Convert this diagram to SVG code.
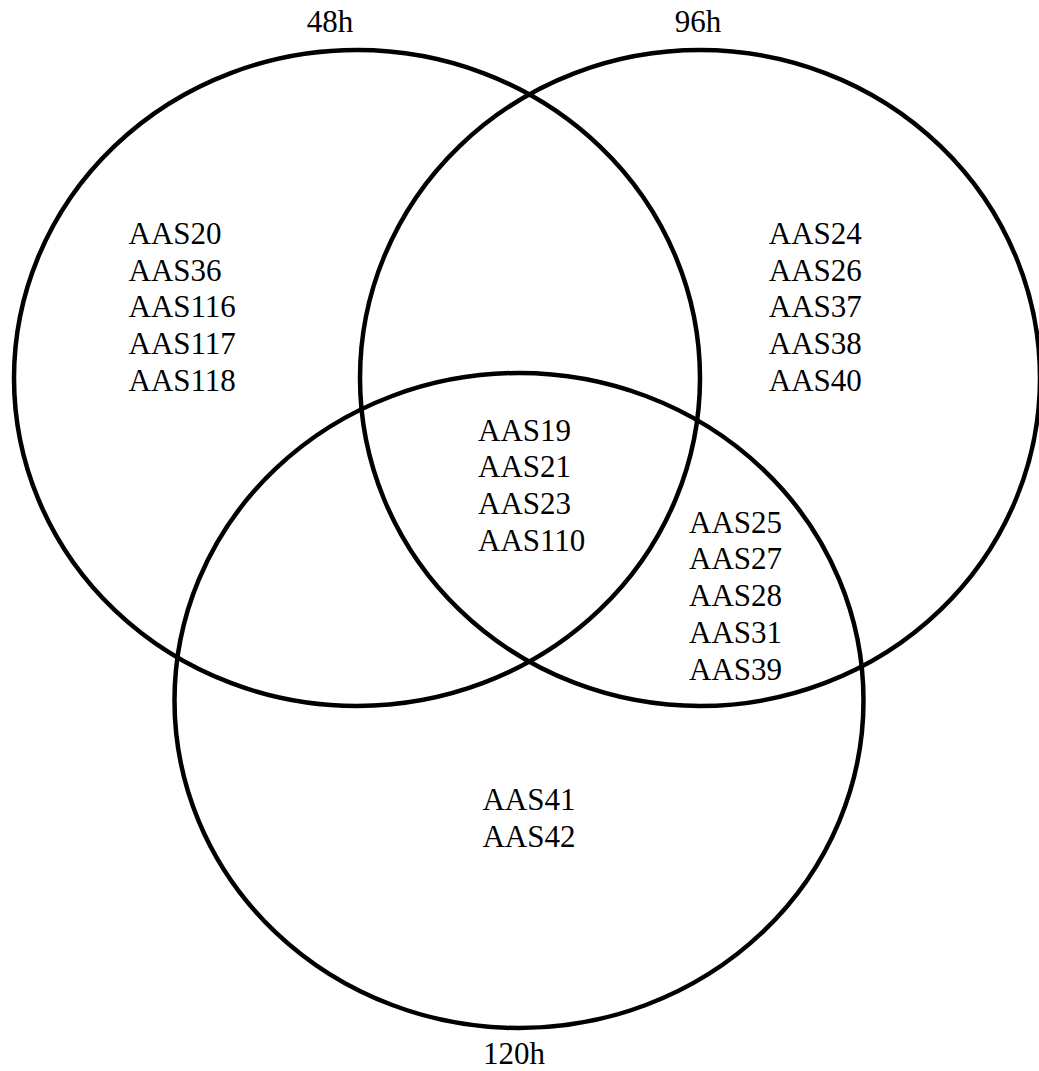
<svg xmlns="http://www.w3.org/2000/svg" width="1039" height="1071" viewBox="0 0 1039 1071">
<style>
.c{fill:none;stroke:#000;stroke-width:4.5}
.t{font-family:"Liberation Serif","Times New Roman",serif;font-size:31px;fill:#000}
</style>
<rect width="1039" height="1071" fill="#fff"/>
<g id="set-48h">
<ellipse class="c" cx="357" cy="378" rx="343" ry="328"/>
<text class="t" x="330" y="32" text-anchor="middle">48h</text>
</g>
<g id="set-96h">
<ellipse class="c" cx="700" cy="378" rx="340" ry="328"/>
<text class="t" x="698" y="32" text-anchor="middle">96h</text>
</g>
<g id="set-120h">
<ellipse class="c" cx="519" cy="700.5" rx="344.5" ry="327.5"/>
<text class="t" x="514" y="1064" text-anchor="middle">120h</text>
</g>
<g id="only-48h" class="t">
<text x="128.5" y="244">AAS20</text>
<text x="128.5" y="280.7">AAS36</text>
<text x="128.5" y="317.3">AAS116</text>
<text x="128.5" y="354">AAS117</text>
<text x="128.5" y="390.7">AAS118</text>
</g>
<g id="only-96h" class="t">
<text x="768.8" y="244">AAS24</text>
<text x="768.8" y="280.7">AAS26</text>
<text x="768.8" y="317.3">AAS37</text>
<text x="768.8" y="354">AAS38</text>
<text x="768.8" y="390.7">AAS40</text>
</g>
<g id="all-three" class="t">
<text x="478" y="440.7">AAS19</text>
<text x="478" y="477.3">AAS21</text>
<text x="478" y="514">AAS23</text>
<text x="478" y="550.7">AAS110</text>
</g>
<g id="96h-120h" class="t">
<text x="689" y="532.5">AAS25</text>
<text x="689" y="569.2">AAS27</text>
<text x="689" y="606">AAS28</text>
<text x="689" y="642.7">AAS31</text>
<text x="689" y="679.5">AAS39</text>
</g>
<g id="only-120h" class="t">
<text x="482.4" y="810">AAS41</text>
<text x="482.4" y="846.7">AAS42</text>
</g>
<g id="connectors"/>
</svg>
